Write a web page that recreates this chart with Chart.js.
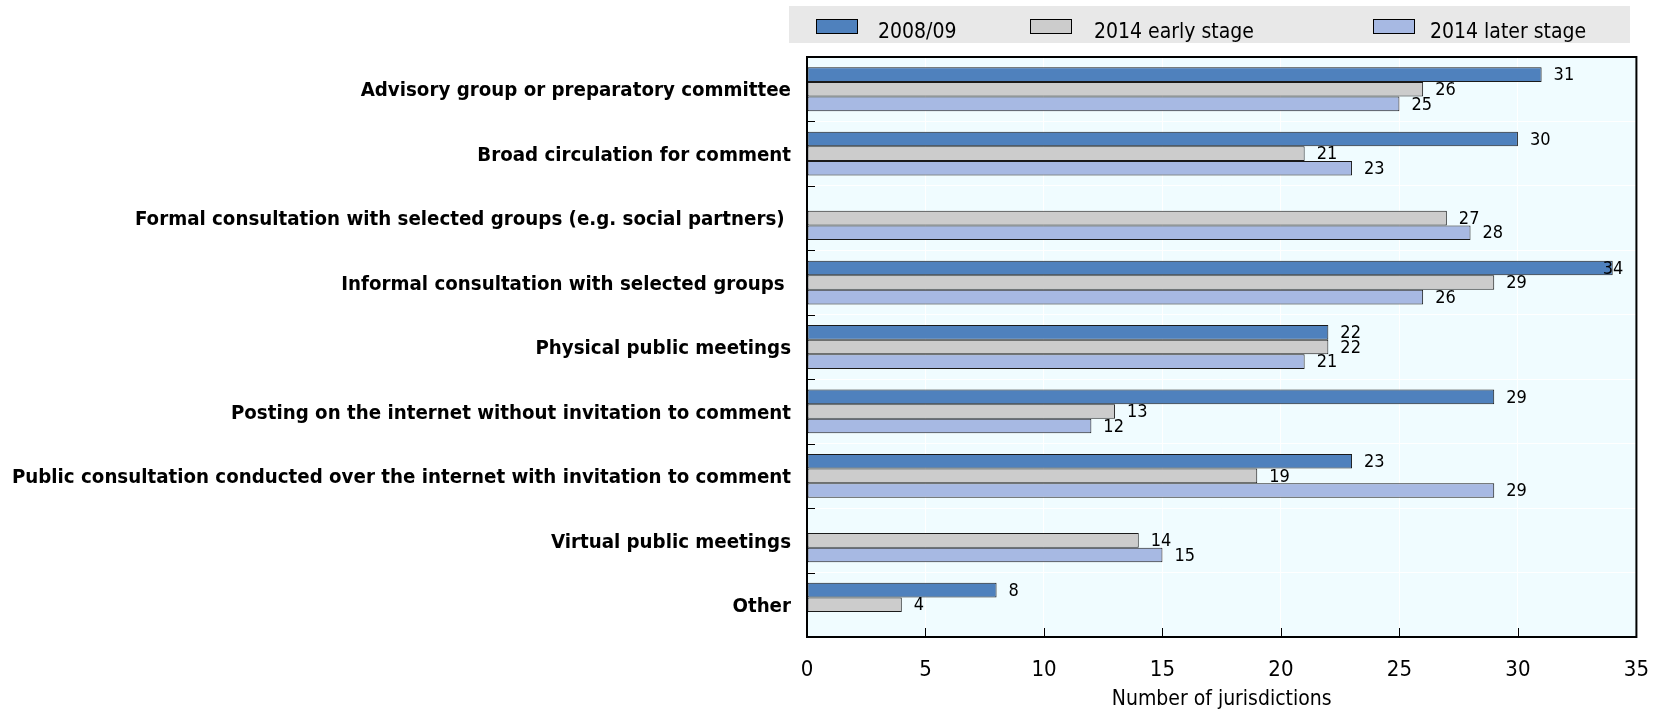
<!DOCTYPE html>
<html>
<head>
<meta charset="utf-8">
<script src="https://cdn.jsdelivr.net/npm/chart.js@4"></script>
<style>
  html, body { margin: 0; padding: 0; background: #fff; }
  #wrap { position: relative; width: 1669px; height: 712px; }
  #c { position: absolute; left: 0; top: 0; }
  #legend { position: absolute; left: 789px; top: 6px; width: 841px; height: 37px; background: #E8E8E8; }
  .sw { position: absolute; top: 13px; width: 40px; height: 13px; border: 1px solid #000; }
  .lt { position: absolute; top: 12px; font-family: "Liberation Sans Narrow", "Arial Narrow", "DejaVu Sans Condensed", sans-serif; font-size: 21px; line-height: 26px; color: #000; white-space: nowrap; }
</style>
</head>
<body>
<div id="wrap">
  <canvas id="c" width="1669" height="712"></canvas>
  <div id="legend"></div>
</div>
<script>
const categories = [
  "Advisory group or preparatory committee",
  "Broad circulation for comment",
  "Formal consultation with selected groups (e.g. social partners) ",
  "Informal consultation with selected groups ",
  "Physical public meetings",
  "Posting on the internet without invitation to comment",
  "Public consultation conducted over the internet with invitation to comment",
  "Virtual public meetings",
  "Other"
];
const seriesNames = ["2008/09", "2014 early stage", "2014 later stage"];
const values2008 = [31, 30, null, 34, 22, 29, 23, null, 8];
const valuesEarly2014 = [26, 21, 27, 29, 22, 13, 19, 14, 4];
const valuesLater2014 = [25, 23, 28, 26, 21, 12, 29, 15, null];
const xTickValues = [0, 5, 10, 15, 20, 25, 30, 35];
const axisTitle = "Number of jurisdictions";

const colors = ["#4F81BD", "#CCCCCC", "#A7B9E3"];
const NARROW = '"Liberation Sans Narrow", "Arial Narrow", "DejaVu Sans Condensed", sans-serif';

// HTML legend
const legendPos = [[27, 89], [241, 305], [584, 641]];
const legend = document.getElementById('legend');
seriesNames.forEach((n, i) => {
  const s = document.createElement('div');
  s.className = 'sw'; s.style.left = legendPos[i][0] + 'px'; s.style.background = colors[i];
  legend.appendChild(s);
  const t = document.createElement('div');
  t.className = 'lt'; t.style.left = legendPos[i][1] + 'px'; t.textContent = n;
  legend.appendChild(t);
});

const bgPlugin = {
  id: 'bg',
  beforeDraw(chart) {
    const a = chart.chartArea, ctx = chart.ctx;
    ctx.save();
    ctx.fillStyle = '#F0FCFF';
    ctx.fillRect(a.left, a.top, a.right - a.left, a.bottom - a.top);
    ctx.restore();
  }
};

const framePlugin = {
  id: 'frame',
  afterDatasetsDraw(chart) {
    const a = chart.chartArea, ctx = chart.ctx;
    const xs = chart.scales.x, ys = chart.scales.y;
    ctx.save();
    ctx.strokeStyle = '#000';
    ctx.lineWidth = 1;
    const n = categories.length;
    for (let i = 1; i < n; i++) {
      const y = Math.round((ys.getPixelForValue(i - 1) + ys.getPixelForValue(i)) / 2) + 0.5;
      ctx.beginPath(); ctx.moveTo(a.left, y); ctx.lineTo(a.left + 8, y); ctx.stroke();
    }
    xTickValues.forEach(v => {
      const x = Math.round(xs.getPixelForValue(v)) + 0.5;
      ctx.beginPath(); ctx.moveTo(x, a.bottom); ctx.lineTo(x, a.bottom - 9); ctx.stroke();
    });
    ctx.lineWidth = 2;
    ctx.strokeRect(a.left, a.top, a.right - a.left, a.bottom - a.top);
    ctx.restore();
  }
};

const labelPlugin = {
  id: 'vals',
  afterDatasetsDraw(chart) {
    const ctx = chart.ctx, a = chart.chartArea;
    ctx.save();
    ctx.font = '18px ' + NARROW;
    ctx.fillStyle = '#000';
    ctx.textBaseline = 'middle';
    ctx.textAlign = 'left';
    chart.data.datasets.forEach((ds, di) => {
      const meta = chart.getDatasetMeta(di);
      meta.data.forEach((bar, i) => {
        const v = ds.data[i];
        if (v === null || v === undefined) return;
        const txt = String(v);
        const w = ctx.measureText(txt).width;
        let x = bar.x + 12;
        if (x + w > a.right - 13) x = a.right - 13 - w;
        ctx.fillText(txt, x, bar.y + 1);
      });
    });
    ctx.restore();
  }
};

new Chart(document.getElementById('c'), {
  type: 'bar',
  data: {
    labels: categories,
    datasets: [
      { label: seriesNames[0], data: values2008, backgroundColor: colors[0] },
      { label: seriesNames[1], data: valuesEarly2014, backgroundColor: colors[1] },
      { label: seriesNames[2], data: valuesLater2014, backgroundColor: colors[2] }
    ].map(d => Object.assign(d, { borderColor: '#1a1a1a', borderWidth: 1, borderSkipped: false, barPercentage: 1, categoryPercentage: 0.68 }))
  },
  options: {
    indexAxis: 'y',
    responsive: false,
    animation: false,
    devicePixelRatio: 1,
    layout: { padding: { top: 57, right: 28, left: 0, bottom: 0 } },
    plugins: { legend: { display: false }, tooltip: { enabled: false } },
    scales: {
      x: {
        min: 0, max: 35,
        afterBuildTicks(scale) { scale.ticks = xTickValues.map(v => ({ value: v })); },
        afterFit(scale) { scale.height = 75; },
        ticks: { color: '#000', font: { family: NARROW, size: 22 }, padding: 20, maxRotation: 0 },
        grid: { color: '#FFFFFF', lineWidth: 1, drawTicks: false },
        border: { display: false },
        title: { display: true, text: axisTitle, color: '#000', font: { family: NARROW, size: 21 }, padding: { top: 0, bottom: 0 } }
      },
      y: {
        afterFit(scale) { scale.width = 807; },
        ticks: { color: '#000', font: { family: NARROW, size: 20.3, weight: 'bold' }, padding: 16, autoSkip: false, labelOffset: 2 },
        grid: { color: '#FFFFFF', lineWidth: 1, drawTicks: false, offset: true },
        border: { display: false }
      }
    }
  },
  plugins: [bgPlugin, framePlugin, labelPlugin]
});
</script>
</body>
</html>
